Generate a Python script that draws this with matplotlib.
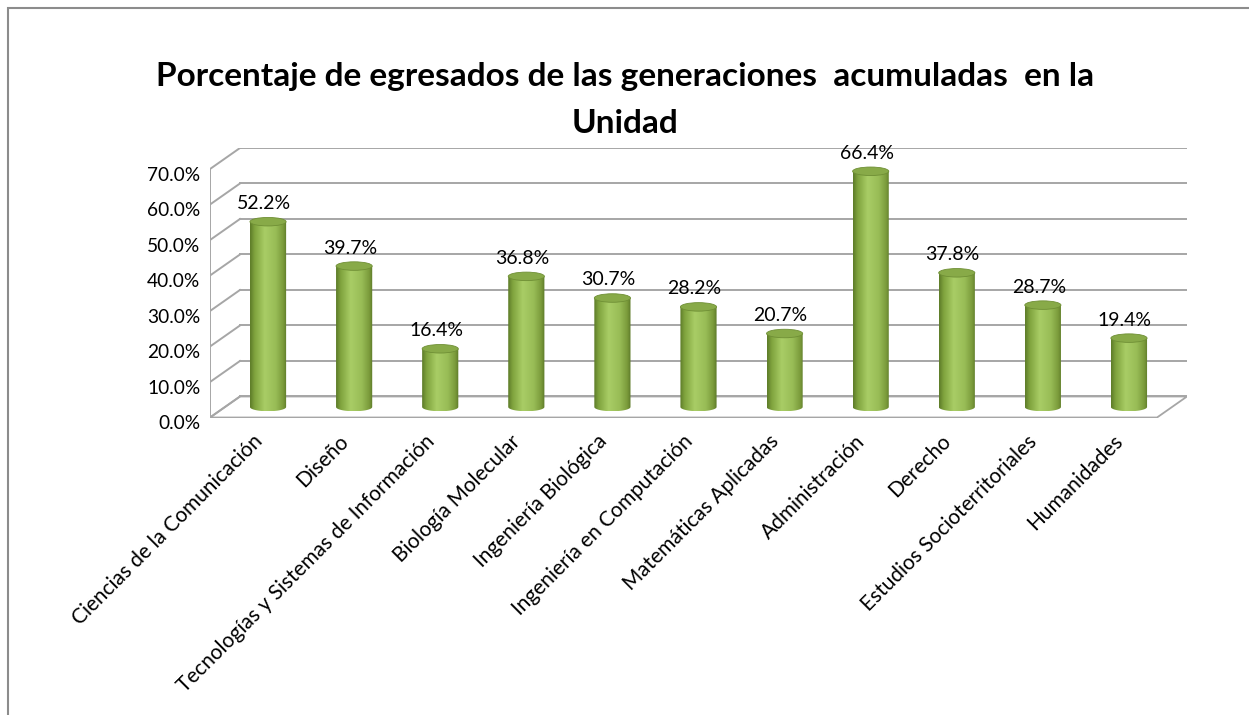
import numpy as np
import matplotlib.pyplot as plt
from matplotlib.patches import Polygon, Ellipse, Rectangle
from matplotlib.colors import LinearSegmentedColormap
from matplotlib.transforms import ScaledTranslation

# datos
carreras = ["Ciencias de la Comunicación", "Diseño", "Tecnologías y Sistemas de Información",
            "Biología Molecular", "Ingeniería Biológica", "Ingeniería en Computación",
            "Matemáticas Aplicadas", "Administración", "Derecho",
            "Estudios Socioterritoriales", "Humanidades"]
porcentajes = [52.2, 39.7, 16.4, 36.8, 30.7, 28.2, 20.7, 66.4, 37.8, 28.7, 19.4]
y_ticks = [0, 10, 20, 30, 40, 50, 60, 70]
y_labels = ["0.0%", "10.0%", "20.0%", "30.0%", "40.0%", "50.0%", "60.0%", "70.0%"]
titulo = "Porcentaje de egresados de las generaciones  acumuladas  en la\nUnidad"

plt.rcParams['font.family'] = ['Lato', 'DejaVu Sans']

W, H = 1249, 715
fig = plt.figure(figsize=(W / 100, H / 100), dpi=100)

# marco del grafico (recortado a la derecha y abajo)
fig.patches.append(Rectangle((8 / W, -0.1), 2, 1.1 - 8 / H, transform=fig.transFigure,
                             fill=False, edgecolor='#8c8c8c', lw=1.5))

# media profundidad del "3D" en unidades de datos
dx, dy = 0.174, 2.96
n = len(carreras)
x0, x1 = -0.5, n - 0.5
ymax = y_ticks[-1]
gris = '#a6a6a6'

ax = fig.add_axes([210 / W, 1 - 417.5 / H, 977 / W, 269.5 / H])

# piso
ax.add_patch(Polygon([(x0 - dx, -dy), (x0 + dx, dy), (x1 + dx, dy), (x1 - dx, -dy)],
                     closed=True, facecolor='white', edgecolor=gris, lw=1.3, zorder=1))

# lineas de cuadricula: pared del fondo y pared izquierda
for v in y_ticks:
    ax.plot([x0 + dx, x1 + dx], [v + dy, v + dy], color=gris, lw=1.4, zorder=1)
    ax.plot([x0 - dx, x0 + dx], [v - dy, v + dy], color=gris, lw=1.4, zorder=1)
ax.plot([x0 - dx, x0 - dx], [-dy, ymax - dy], color=gris, lw=1.4, zorder=1)

# cilindros
cmap = LinearSegmentedColormap.from_list('cil', [
    (0.0, '#5c7a28'), (0.12, '#7ea23d'), (0.4, '#a9cd66'),
    (0.7, '#98bc56'), (0.9, '#7b9b3b'), (1.0, '#5c7828')])
grad = np.linspace(0, 1, 256).reshape(1, -1)
w, eh = 0.42, 1.2
t = np.linspace(np.pi, 2 * np.pi, 40)
for i, v in enumerate(porcentajes):
    img = ax.imshow(grad, extent=[i - w / 2, i + w / 2, -eh, v], aspect='auto',
                    cmap=cmap, interpolation='bicubic', zorder=3)
    pts = [(i - w / 2, v)] + list(zip(i + w / 2 * np.cos(t), eh * np.sin(t))) + [(i + w / 2, v)]
    clip = Polygon(pts, closed=True, facecolor='none', edgecolor='none')
    ax.add_patch(clip)
    img.set_clip_path(clip)
    ax.add_patch(Ellipse((i, v), w, 2 * eh, facecolor='#88aa48', edgecolor='#6f8f35',
                         lw=0.6, zorder=4))
    ax.annotate(f"{v:.1f}%", (i, v), xytext=(-3, 13), textcoords='offset points',
                ha='center', va='center', fontsize=14, zorder=5)

# etiquetas del eje y
for v, lab in zip(y_ticks, y_labels):
    ax.annotate(lab, (x0 - dx, v - dy - 1.8), xytext=(-7, 0), textcoords='offset points',
                ha='right', va='center', fontsize=13.8, annotation_clip=False)

ax.set_xlim(x0 - dx, x1 + dx)
ax.set_ylim(-dy, ymax + dy)
ax.set_yticks([])
ax.set_xticks(range(n), carreras)
ax.tick_params(axis='x', length=0, pad=15)
shift = ScaledTranslation(-0.09, 0, fig.dpi_scale_trans)
for lab in ax.get_xticklabels():
    lab.set(rotation=45, ha='right', va='center', rotation_mode='anchor', fontsize=15)
    lab.set_transform(lab.get_transform() + shift)
for s in ax.spines.values():
    s.set_visible(False)
ax.patch.set_alpha(0)

fig.text(625 / W, 1 - 100 / H, titulo, ha='center', va='center', fontsize=24,
         fontweight='bold', linespacing=1.75)

fig.savefig('out.png', dpi=100)
